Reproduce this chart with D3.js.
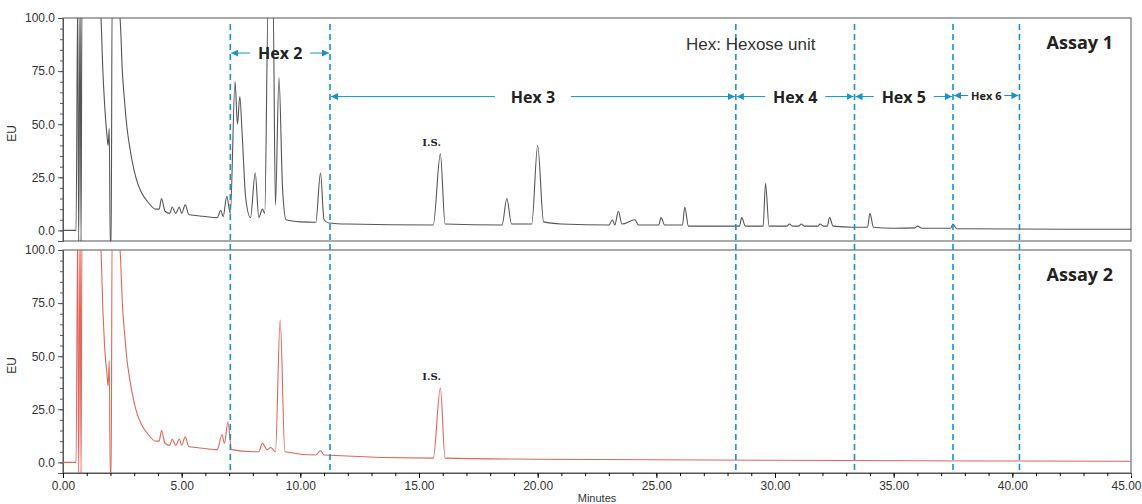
<!DOCTYPE html>
<html>
<head>
<meta charset="UTF-8">
<style>
body { margin: 0; background: #fff; }
svg { font-family: "Liberation Sans", Arial, sans-serif; }
</style>
<script src="https://cdn.jsdelivr.net/npm/d3@7"></script>
</head>
<body>
<script>
// chromatogram points [minutes, EU]
const assay1 = [[0,0],[0.55,0],[0.62,110],[0.66,-6],[0.72,110],[0.76,-6],[0.8,110],[1.5,110],[1.6,100],[1.68,75],[1.75,60],[1.85,45],[1.9,40],[1.95,48],[1.99,-6],[2.03,-6],[2.07,110],[2.4,100],[2.5,75],[2.6,60],[2.7,48],[2.8,40],[3.0,28],[3.15,22],[3.3,18],[3.6,13],[3.9,10],[4.05,10],[4.15,15],[4.3,9],[4.5,8],[4.6,11],[4.75,8],[4.9,11],[5.0,8],[5.15,12],[5.3,7.5],[5.6,7],[6.0,6.5],[6.5,6],[6.65,9.5],[6.75,6.5],[6.9,16],[7.05,8],[7.25,70],[7.35,50],[7.45,63],[7.55,45],[7.7,15],[7.9,6],[8.1,27],[8.25,6],[8.4,10],[8.5,8],[8.65,110],[8.85,110],[8.95,12],[9.1,72],[9.25,20],[9.4,5],[10,4],[10.65,3.8],[10.85,27],[11.0,5],[11.2,3.5],[12,3],[15.6,2.5],[15.9,36],[16.1,3],[18.5,2.5],[18.7,15],[18.9,3],[19.75,3],[20.0,40],[20.25,4],[21,3],[23,2.5],[23.15,5],[23.25,2.5],[23.4,9],[23.55,3],[24.1,5],[24.25,2.5],[25.1,2.5],[25.2,6],[25.35,2.5],[26.1,2.5],[26.2,11],[26.35,2],[28.5,2],[28.6,6],[28.75,2],[29.5,2],[29.6,22],[29.75,2],[30.5,2],[30.6,3],[30.75,2],[31.0,2],[31.1,3],[31.25,2],[31.8,2],[31.9,3],[32.05,2],[32.2,2],[32.3,6],[32.45,2],[33.3,1.5],[33.9,1.5],[34.0,8],[34.15,1.5],[35,1],[35.9,1.2],[36,2],[36.2,1],[37.4,1],[37.5,3],[37.65,0.8],[45,0.5]];
const assay2 = [[0,0],[0.55,0],[0.62,110],[0.66,-6],[0.72,110],[0.76,-6],[0.8,110],[1.5,110],[1.6,100],[1.68,72],[1.75,55],[1.85,42],[1.9,36],[1.95,48],[1.99,-6],[2.03,-6],[2.07,110],[2.4,100],[2.5,75],[2.6,60],[2.7,48],[2.8,40],[3.0,28],[3.15,22],[3.3,18],[3.6,13],[3.9,10],[4.05,10],[4.15,15],[4.3,9],[4.5,8],[4.6,11],[4.75,8],[4.9,11],[5.0,8],[5.15,12],[5.3,7.5],[5.6,7],[6.0,6.5],[6.5,6],[6.7,13],[6.8,9],[6.95,19],[7.1,6],[8.0,5],[8.25,5],[8.4,9],[8.6,6],[8.75,7],[8.95,5],[9.15,67],[9.35,5],[10.65,3.5],[10.85,5.5],[11.0,3.5],[15.6,2],[15.9,35],[16.1,2],[20,1.5],[30,1],[45,0.5]];
const boundaries = [7.05, 11.25, 28.35, 33.35, 37.5, 40.3];
const regions = [
  {label: "Hex 2", from: 7.05, to: 11.25, y: 83.5},
  {label: "Hex 3", from: 11.25, to: 28.35, y: 63},
  {label: "Hex 4", from: 28.35, to: 33.35, y: 63},
  {label: "Hex 5", from: 33.35, to: 37.5, y: 63},
  {label: "Hex 6", from: 37.5, to: 40.3, y: 63.5}
];
const yTicks = [0, 25, 50, 75, 100];
const xTicks = [0, 5, 10, 15, 20, 25, 30, 35, 40, 45];

const W = 1142, H = 504, left = 63, right = 1131;
const svg = d3.select("body").append("svg").attr("width", W).attr("height", H);
const defs = svg.append("defs");
defs.append("marker").attr("id", "arr").attr("viewBox", "0 0 10 10").attr("refX", 10).attr("refY", 5)
  .attr("markerWidth", 7).attr("markerHeight", 7).attr("orient", "auto-start-reverse")
  .append("path").attr("d", "M0,0L10,5L0,10z").attr("fill", "#1a8fc9");

const x = d3.scaleLinear().domain([0, 45]).range([left, right]);
const blue = "#1a8fc9";

const panels = [
  {data: assay1, top: 18, bottom: 241, color: "#555", name: "Assay 1", is: 15.9, isY: 36},
  {data: assay2, top: 250, bottom: 473, color: "#e0665a", name: "Assay 2", is: 15.9, isY: 35}
];

panels.forEach((p, i) => {
  const y = d3.scaleLinear().domain([-5, 100]).range([p.bottom, p.top]);
  const g = svg.append("g");
  defs.append("clipPath").attr("id", "c" + i).append("rect")
    .attr("x", left).attr("y", p.top).attr("width", right - left).attr("height", p.bottom - p.top);
  g.append("rect").attr("x", left).attr("y", p.top).attr("width", right - left).attr("height", p.bottom - p.top)
    .attr("fill", "none").attr("stroke", "#555");
  const ya = g.append("g").attr("transform", `translate(${left},0)`)
    .call(d3.axisLeft(y).tickValues(yTicks).tickFormat(d3.format(".1f")).tickSize(5));
  g.append("g").attr("transform", `translate(${left},0)`)
    .call(d3.axisLeft(y).tickValues(d3.range(0, 100, 5)).tickFormat("").tickSize(3));
  g.selectAll(".domain").attr("stroke", "#555");
  g.selectAll(".tick line").attr("stroke", "#555");
  ya.selectAll("text").attr("font-size", 12).attr("fill", "#333");
  g.append("text").attr("transform", `translate(16,${(p.top + p.bottom) / 2 + 4}) rotate(-90)`)
    .attr("text-anchor", "middle").attr("font-size", 12).attr("fill", "#333").text("EU");

  g.append("path").datum(p.data).attr("clip-path", `url(#c${i})`)
    .attr("d", d3.line().x(d => x(d[0])).y(d => y(d[1])).curve(d3.curveMonotoneX))
    .attr("fill", "none").attr("stroke", p.color).attr("stroke-width", 1.1).attr("stroke-linejoin", "round");

  g.append("text").attr("x", x(p.is) - 18).attr("y", y(p.isY) - 8)
    .attr("font-family", "DejaVu Serif, serif").attr("font-weight", "bold").attr("font-size", 10).attr("fill", "#222").text("I.S.");
  g.append("text").attr("x", 1113).attr("y", p.top + 31).attr("text-anchor", "end")
    .attr("font-family", "Open Sans, sans-serif").attr("font-weight", "bold").attr("font-size", 18).attr("fill", "#222").text(p.name);

  if (i === 1) {
    const xa = svg.append("g").attr("transform", `translate(0,${p.bottom})`)
      .call(d3.axisBottom(x).tickValues(xTicks).tickFormat(d3.format(".2f")).tickSize(5));
    svg.append("g").attr("transform", `translate(0,${p.bottom})`)
      .call(d3.axisBottom(x).tickValues(d3.range(0, 45, 1)).tickFormat("").tickSize(3));
    xa.selectAll("text").attr("font-size", 12).attr("fill", "#333")
      .filter(d => d === 45).attr("text-anchor", "end").attr("dx", 10);
    svg.selectAll(".domain").attr("stroke", "#555");
    svg.append("text").attr("x", x(22.5)).attr("y", 502).attr("text-anchor", "middle")
      .attr("font-size", 11).attr("fill", "#333").text("Minutes");
  }
});

// region boundaries spanning both panels
svg.selectAll(".bnd").data(boundaries).enter().append("line")
  .attr("x1", d => x(d)).attr("x2", d => x(d)).attr("y1", 24).attr("y2", 473)
  .attr("stroke", blue).attr("stroke-width", 1.6).attr("stroke-dasharray", "6,4");

const yTop = d3.scaleLinear().domain([-5, 100]).range([241, 18]);
regions.forEach(r => {
  const yy = yTop(r.y), xm = x((r.from + r.to) / 2);
  const small = r.label === "Hex 6";
  const half = small ? 18 : (r.label === "Hex 3" ? 38 : 30);
  svg.append("line").attr("x1", xm - half).attr("x2", x(r.from) + 1).attr("y1", yy).attr("y2", yy)
    .attr("stroke", blue).attr("marker-end", "url(#arr)");
  svg.append("line").attr("x1", xm + half).attr("x2", x(r.to) - 1).attr("y1", yy).attr("y2", yy)
    .attr("stroke", blue).attr("marker-end", "url(#arr)");
  svg.append("text").attr("x", xm).attr("y", yy + (small ? 4 : 6)).attr("text-anchor", "middle")
    .attr("font-family", "Open Sans, sans-serif").attr("font-weight", "bold")
    .attr("font-size", small ? 11 : 16).attr("fill", "#222").text(r.label);
});
svg.append("text").attr("x", 686).attr("y", 50).attr("font-size", 17).attr("fill", "#333").text("Hex: Hexose unit");
</script>
</body>
</html>
